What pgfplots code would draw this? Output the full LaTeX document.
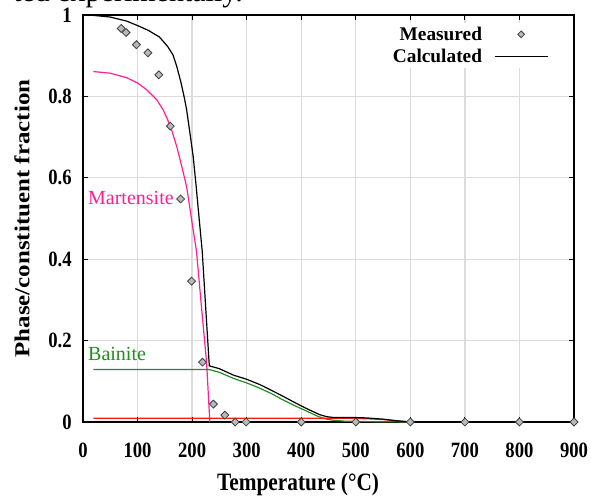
\documentclass[border=0pt]{standalone}
\usepackage{fontspec}
\setmainfont{Liberation Serif}
\usepackage{graphicx}
\usepackage{pgfplots}
\pgfplotsset{compat=1.18}

\definecolor{colMart}{HTML}{FF1E96}
\definecolor{colBain}{HTML}{228B22}
\definecolor{colRed}{HTML}{FF1A1A}
\definecolor{colGrid}{HTML}{DCDCDC}

\pgfplotsset{
    measleg/.style={legend image code/.code={
        \path[draw=none, fill=none] (0cm,0cm) -- (1.4cm,0cm);
        \draw[##1, mark size=1.8pt] plot coordinates {(0.7cm,0cm)};
    }},
    lineleg/.style={legend image code/.code={
        \draw[##1] (0cm,0cm) -- (1.4cm,0cm);
    }},
}

\begin{document}
\begin{tikzpicture}
% --- cropped caption line of the page above the figure ---
\node[anchor=base west, inner sep=0pt, font=\fontsize{22.5}{22.5}\selectfont]
  at (-52.5pt,315pt) {ted experimentally.};

\begin{axis}[
    scale only axis,
    width=368.25pt, height=305.25pt,
    xmin=0, xmax=900, ymin=0, ymax=1,
    xtick={0,100,...,900},
    ytick={0,0.2,...,1},
    grid=major,
    major grid style={colGrid, line width=1pt},
    axis line style={black, line width=1.5pt},
    tick style={black, line width=0.6pt},
    major tick length=3.5pt,
    /pgf/number format/assume math mode=true,
    tick label style={font=\bfseries\fontsize{14}{14}\selectfont},
    xticklabel={\scalebox{1}[1.17]{\pgfmathprintnumber{\tick}}},
    yticklabel={\scalebox{1}[1.17]{\pgfmathprintnumber{\tick}}},
    xticklabel style={yshift=-12.5pt},
    yticklabel style={xshift=-5pt},
    xlabel={\scalebox{1}[1.17]{Temperature (°C)}},
    ylabel={\scalebox{1.17}[1]{Phase/constituent fraction}},
    label style={font=\bfseries\fontsize{16}{16}\selectfont},
    xlabel style={at={(axis description cs:0.438,0)}, anchor=center, yshift=-47pt},
    ylabel style={at={(axis description cs:-0.1242,0.5)}, anchor=center},
    legend plot pos=right,
    legend cell align=right,
    legend style={at={(axis description cs:0.951,0.982)}, anchor=north east,
        draw=none, fill=white, inner sep=1pt, row sep=1pt, column sep=7pt,
        font=\bfseries\fontsize{14.5}{14.5}\selectfont},
]

% Martensite
\addplot[colMart, line width=0.9pt, forget plot] coordinates {
    (19,0.861) (50,0.857) (80,0.846) (100,0.833) (117,0.816) (135,0.792)
    (147,0.767) (160,0.728) (172,0.676) (181,0.628) (190,0.578) (196,0.525)
    (201,0.480) (208,0.420) (218,0.270) (226.5,0.147) (232.5,0.0)
};
% Bainite
\addplot[colBain, line width=0.9pt, forget plot] coordinates {
    (19,0.129) (231,0.129) (250,0.122) (276,0.107) (300,0.096) (324,0.083)
    (345,0.070) (367,0.054) (385,0.042) (398,0.034) (416,0.023) (432,0.013)
    (447,0.007) (460,0.004) (480,0.002) (520,0.001) (600,0.0)
};
% third phase (red)
\addplot[colRed, line width=0.9pt, forget plot] coordinates {
    (19,0.009) (490,0.009) (520,0.008) (550,0.006) (575,0.003) (600,0.0)
};
% Calculated total
\addplot[black, line width=0.9pt, forget plot] coordinates {
    (19,0.999) (50,0.995) (80,0.985) (100,0.974) (120,0.962) (140,0.946)
    (155,0.923) (165,0.902) (172,0.873) (180,0.832) (186,0.795) (190,0.767)
    (196,0.710) (202,0.652) (207,0.585) (212.6,0.504) (218.5,0.420)
    (231.5,0.138) (250,0.131) (276,0.115) (300,0.105) (324,0.092)
    (345,0.078) (367,0.063) (385,0.050) (398,0.041) (416,0.029) (434,0.018)
    (447,0.013) (460,0.011) (498,0.011) (520,0.010) (550,0.007) (575,0.003)
    (600,0.0)
};

% Measured
\addplot[only marks, mark=square*,
    mark options={rotate=45, fill=gray!55, draw=black!75, line width=0.6pt},
    mark size=2.1pt, measleg] coordinates {
    (70,0.967) (79,0.957) (98,0.927) (119,0.907) (139,0.853) (160,0.727)
    (179,0.548) (199,0.346) (219,0.147) (239,0.044) (260,0.017) (279,0)
    (299,0) (400,0) (500,0) (600,0) (700,0) (800,0) (900,0)
};
\addlegendentry{Measured}

\addlegendimage{black, line width=0.9pt, lineleg}
\addlegendentry{Calculated}

\node[anchor=west, inner sep=0pt, colMart, font=\fontsize{15}{15}\selectfont]
    at (axis cs:9,0.55) {Martensite};
\node[anchor=west, inner sep=0pt, colBain, font=\fontsize{15}{15}\selectfont]
    at (axis cs:9,0.167) {Bainite};

\end{axis}

\pgfresetboundingbox
\path[use as bounding box] (-62.25pt,-57.75pt) rectangle (381pt,316.5pt);
\end{tikzpicture}
\end{document}
